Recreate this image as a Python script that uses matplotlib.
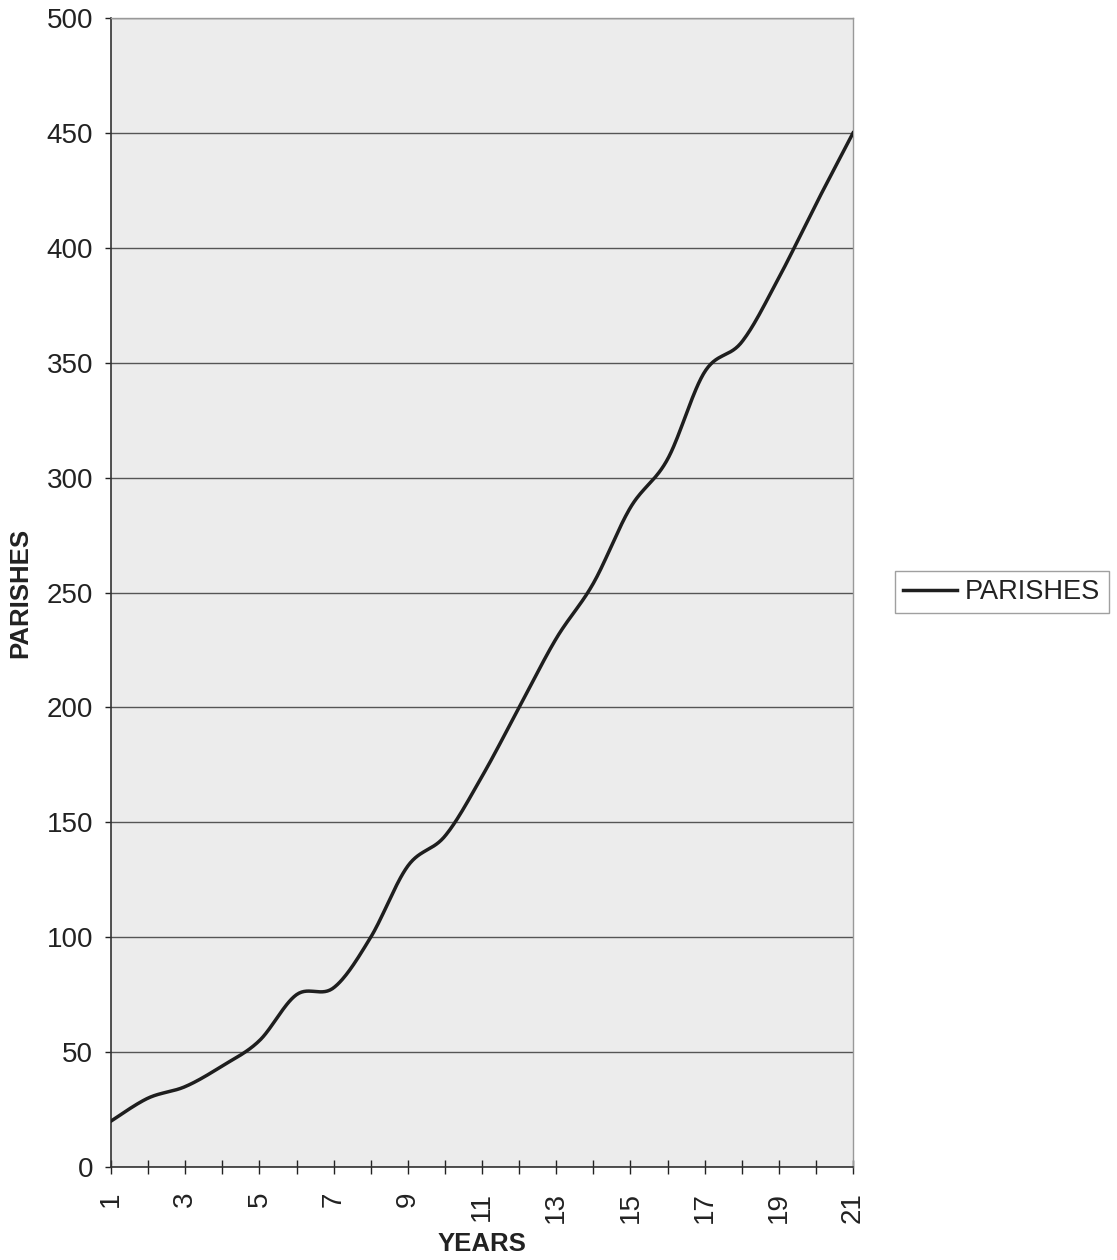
import numpy as np
import matplotlib.pyplot as plt

plt.rcParams['font.family'] = ['Liberation Sans', 'DejaVu Sans']

years = list(range(1, 22))
parishes = [20, 30, 35, 44, 55, 75, 78, 100, 131, 144, 170,
            200, 230, 254, 287, 308, 346, 359, 387, 419, 450]
y_ticks = [0, 50, 100, 150, 200, 250, 300, 350, 400, 450, 500]
x_tick_labels = [str(y) if y % 2 == 1 else "" for y in years]


def smooth_curve(x, y, steps=30):
    # Catmull-Rom style smoothing, like a spreadsheet "smoothed line"
    x = np.asarray(x, float)
    y = np.asarray(y, float)
    px = np.concatenate([[x[0]], x, [x[-1]]])
    py = np.concatenate([[y[0]], y, [y[-1]]])
    xs, ys = [], []
    t = np.linspace(0, 1, steps, endpoint=False)
    for i in range(1, len(px) - 2):
        p0, p1, p2, p3 = px[i - 1], px[i], px[i + 1], px[i + 2]
        q0, q1, q2, q3 = py[i - 1], py[i], py[i + 1], py[i + 2]
        c1x, c1y = p1 + (p2 - p0) / 6, q1 + (q2 - q0) / 6
        c2x, c2y = p2 - (p3 - p1) / 6, q2 - (q3 - q1) / 6
        b0 = (1 - t) ** 3
        b1 = 3 * (1 - t) ** 2 * t
        b2 = 3 * (1 - t) * t ** 2
        b3 = t ** 3
        xs.append(b0 * p1 + b1 * c1x + b2 * c2x + b3 * p2)
        ys.append(b0 * q1 + b1 * c1y + b2 * c2y + b3 * q2)
    xs.append([x[-1]])
    ys.append([y[-1]])
    return np.concatenate(xs), np.concatenate(ys)


fig = plt.figure(figsize=(11.17, 12.6), dpi=100)
ax = fig.add_axes([0.0994, 0.0738, 0.6643, 0.9119])
ax.set_facecolor('#ececec')

sx, sy = smooth_curve(years, parishes)
ax.plot(sx, sy, color='#1e1e1e', linewidth=2.5, label='PARISHES', zorder=3)

ax.set_xlim(1, 21)
ax.set_ylim(0, 500)
ax.set_yticks(y_ticks)
ax.set_xticks(years)
ax.set_xticklabels(x_tick_labels, rotation=90)
ax.yaxis.grid(True, color='#555555', linewidth=1.0)
ax.set_axisbelow(True)

ax.tick_params(axis='y', direction='out', length=4, width=1, pad=9,
               labelsize=20, colors='#222222')
ax.tick_params(axis='x', direction='inout', length=9.5, width=1, pad=13,
               labelsize=20, colors='#222222')

for side in ['left', 'bottom']:
    ax.spines[side].set_color('#333333')
    ax.spines[side].set_linewidth(1.2)
for side in ['top', 'right']:
    ax.spines[side].set_color('#999999')
    ax.spines[side].set_linewidth(1.0)

ax.set_xlabel('YEARS', fontsize=18.5, fontweight='bold', labelpad=7, color='#222222')
ax.set_ylabel('PARISHES', fontsize=18.5, fontweight='bold', labelpad=10, color='#222222')

fig.legend(loc='center left', bbox_to_anchor=(0.801, 0.530), fontsize=19.5,
           frameon=True, fancybox=False, edgecolor='#888888', handlelength=2.0,
           handletextpad=0.3, borderpad=0.3, borderaxespad=0.0,
           labelcolor='#222222')

fig.savefig('out.png', dpi=100, facecolor='white')
